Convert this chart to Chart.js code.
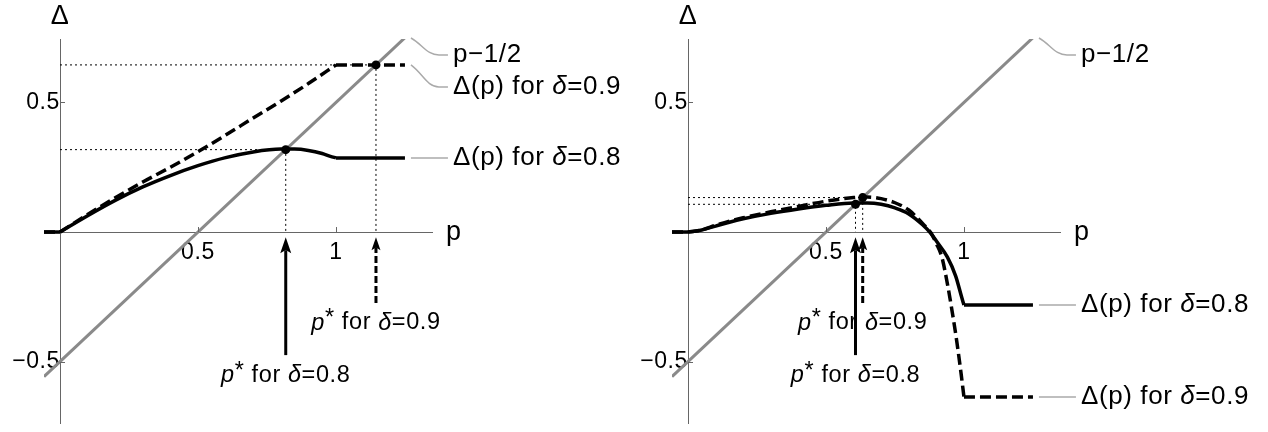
<!DOCTYPE html>
<html>
<head>
<meta charset="utf-8">
<title>Δ(p) for δ=0.8 and δ=0.9</title>
<script src="https://cdn.jsdelivr.net/npm/chart.js@4.4.1/dist/chart.umd.min.js"></script>
<style>
  html, body { margin: 0; padding: 0; background: #fff; overflow: hidden; }
  #wrap { position: relative; width: 1268px; height: 432px; }
  .panel { position: absolute; top: 0; }
</style>
</head>
<body>
<div id="wrap">
  <canvas id="left" class="panel" width="628" height="432" style="left:0"></canvas>
  <canvas id="right" class="panel" width="628" height="432" style="left:628px"></canvas>
</div>
<script>
const FONT = '"Liberation Sans", Arial, Helvetica, sans-serif';
const AXIS_GREY = '#666';
const LINE_GREY = '#8a8a8a';
const CALLOUT_GREY = '#aaa';

// axes (same for both panels)
const xRange = [-0.058, 1.348];
const yRange = [-0.737, 0.745];
const xTicks = [0.5, 1];
const xTickLabels = ['0.5', '1'];
const yTicks = [-0.5, 0.5];
const yTickLabels = ['\u22120.5', '0.5'];

// p − 1/2
const diagP = [-0.058, 1.25];
const diagD = [-0.558, 0.75];

// left panel
const leftP08 = [-0.058, 0, 0.1, 0.2, 0.3, 0.4, 0.5, 0.6, 0.7, 0.8, 0.85, 0.9, 0.95, 0.98, 1, 1.25];
const leftD08 = [0, 0, 0.063, 0.122, 0.174, 0.218, 0.256, 0.287, 0.309, 0.320, 0.320, 0.315, 0.303, 0.292, 0.286, 0.286];
const leftP09 = [-0.058, 0, 0.1, 0.2, 0.3, 0.4, 0.5, 0.6, 0.7, 0.8, 0.9, 1, 1.25];
const leftD09 = [0, 0, 0.068, 0.132, 0.193, 0.250, 0.310, 0.374, 0.440, 0.505, 0.573, 0.645, 0.645];
const leftStarP = [0.818, 1.145];   // p* for δ=0.8, δ=0.9
const leftStarD = [0.318, 0.645];

// right panel
const rightP08 = [-0.058, 0, 0.05, 0.1, 0.15, 0.2, 0.3, 0.4, 0.5, 0.6, 0.65, 0.7, 0.75, 0.8, 0.85, 0.88, 0.9, 0.94, 0.97, 0.99, 1, 1.25];
const rightD08 = [0, 0, 0.008, 0.023, 0.038, 0.051, 0.072, 0.089, 0.103, 0.112, 0.112, 0.107, 0.093, 0.070, 0.028, -0.005, -0.035, -0.097, -0.170, -0.245, -0.282, -0.282];
const rightP09 = [-0.058, 0, 0.05, 0.1, 0.15, 0.2, 0.3, 0.4, 0.5, 0.6, 0.65, 0.7, 0.75, 0.8, 0.85, 0.88, 0.9, 0.92, 0.94, 0.96, 0.975, 0.99, 1, 1.25];
const rightD09 = [0, 0, 0.008, 0.026, 0.042, 0.055, 0.078, 0.099, 0.119, 0.133, 0.135, 0.129, 0.113, 0.085, 0.033, -0.003, -0.045, -0.097, -0.200, -0.325, -0.430, -0.550, -0.637, -0.637];
const rightStarP = [0.607, 0.633];
const rightStarD = [0.107, 0.133];

// arrows and p* labels below the axis (Δ units), δ=0.8 then δ=0.9
const arrowTip = -0.02;
const arrowTail = [-0.475, -0.274];
const starLabelD = [-0.552, -0.351];

const labDiag = [['p\u22121/2']];
const lab08 = [['\u0394(p) for '], ['\u03b4', true], ['=0.8']];
const lab09 = [['\u0394(p) for '], ['\u03b4', true], ['=0.9']];
const star08 = [['p', true], ['*', false, -4], [' for '], ['\u03b4', true], ['=0.8']];
const star09 = [['p', true], ['*', false, -4], [' for '], ['\u03b4', true], ['=0.9']];

const pts = (ps, ds, a = 0, b = ps.length - 1) =>
  ps.slice(a, b + 1).map((p, i) => ({ x: p, y: ds[a + i] }));

// a curve = flat start, smooth body on [0, 1], flat tail (kinks kept sharp)
function curveSets(ps, ds, dash) {
  const i0 = ps.indexOf(0), i1 = ps.indexOf(1);
  const base = { borderColor: '#000', borderWidth: 3.5, pointRadius: 0, borderDash: dash || [] };
  return [
    { ...base, data: pts(ps, ds, 0, i0) },
    { ...base, data: pts(ps, ds, i0, i1), cubicInterpolationMode: 'monotone' },
    { ...base, data: pts(ps, ds, i1) }
  ];
}

function drawRich(ctx, parts, x, y, size, align) {
  let w = 0;
  parts.forEach(([t, it]) => {
    ctx.font = (it ? 'italic ' : '') + size + 'px ' + FONT;
    w += ctx.measureText(t).width;
  });
  let cx = align === 'center' ? x - w / 2 : x;
  ctx.textAlign = 'left';
  parts.forEach(([t, it, dy]) => {
    ctx.font = (it ? 'italic ' : '') + size + 'px ' + FONT;
    ctx.fillText(t, cx, y + (dy || 0));
    cx += ctx.measureText(t).width;
  });
}

function callout(ctx, x0, y0, drop, parts) {
  const x1 = x0 + 37;
  ctx.save();
  ctx.strokeStyle = CALLOUT_GREY;
  ctx.lineWidth = 1.5;
  ctx.beginPath();
  ctx.moveTo(x0, y0);
  if (drop) ctx.bezierCurveTo(x0 + 12, y0 + drop * 0.4, x0 + 16, y0 + drop, x0 + 28, y0 + drop);
  ctx.lineTo(x1, y0 + drop);
  ctx.stroke();
  ctx.fillStyle = '#000';
  ctx.textBaseline = 'middle';
  drawRich(ctx, parts, x1 + 5, y0 + drop, 26, 'left');
  ctx.restore();
}

function arrow(ctx, x, yTail, yTip, dashed) {
  const headL = dashed ? 13 : 16, headW = dashed ? 4.5 : 5.5;
  ctx.save();
  ctx.strokeStyle = '#000';
  ctx.fillStyle = '#000';
  ctx.lineWidth = 3;
  ctx.setLineDash(dashed ? [7, 3] : []);
  ctx.beginPath();
  ctx.moveTo(x, yTail);
  ctx.lineTo(x, yTip + headL - 3);
  ctx.stroke();
  ctx.setLineDash([]);
  ctx.beginPath();
  ctx.moveTo(x, yTip);
  ctx.lineTo(x - headW, yTip + headL);
  ctx.lineTo(x, yTip + headL * 0.8);
  ctx.lineTo(x + headW, yTip + headL);
  ctx.closePath();
  ctx.fill();
  ctx.restore();
}

// centred axes should not push the plot area around
const noPad = s => { s.paddingTop = 0; s.paddingBottom = 0; s.paddingLeft = 0; s.paddingRight = 0; };

function makePanel(id, c) {
  const overlay = {
    id: 'overlay',
    beforeDraw(chart) {
      // the reference type is set a little looser than Liberation Sans
      chart.ctx.letterSpacing = '0.6px';
    },
    beforeDatasetsDraw(chart) {
      const { ctx, scales: { x, y } } = chart;
      ctx.save();
      ctx.strokeStyle = '#000';
      ctx.lineWidth = 1;
      ctx.setLineDash([2, 3]);
      c.starP.forEach((p, i) => {
        const px = x.getPixelForValue(p), py = y.getPixelForValue(c.starD[i]);
        ctx.beginPath();
        ctx.moveTo(x.getPixelForValue(0), py);
        ctx.lineTo(px, py);
        ctx.lineTo(px, y.getPixelForValue(0));
        ctx.stroke();
      });
      ctx.restore();
    },
    afterDraw(chart) {
      const { ctx, chartArea, scales: { x, y } } = chart;
      const x0 = x.getPixelForValue(0), y0 = y.getPixelForValue(0);
      ctx.save();
      // inward tick marks
      ctx.strokeStyle = AXIS_GREY;
      ctx.lineWidth = 1;
      ctx.beginPath();
      xTicks.forEach(v => { const px = Math.round(x.getPixelForValue(v)) + 0.5; ctx.moveTo(px, y0); ctx.lineTo(px, y0 - 5); });
      yTicks.forEach(v => { const py = Math.round(y.getPixelForValue(v)) + 0.5; ctx.moveTo(x0, py); ctx.lineTo(x0 + 5, py); });
      ctx.stroke();
      // axis titles
      ctx.fillStyle = '#000';
      ctx.textBaseline = 'alphabetic';
      ctx.textAlign = 'center';
      ctx.font = '27px ' + FONT;
      ctx.fillText('\u0394', x0, chartArea.top - 15);
      ctx.textAlign = 'left';
      ctx.font = '27px ' + FONT;
      ctx.fillText('p', chartArea.right + 14, y0 + 8);
      // p* labels, then arrows on top
      ctx.textBaseline = 'middle';
      c.starP.forEach((p, i) => {
        drawRich(ctx, i === 0 ? star08 : star09, x.getPixelForValue(p), y.getPixelForValue(starLabelD[i]), 23.5, 'center');
      });
      c.starP.forEach((p, i) => {
        arrow(ctx, x.getPixelForValue(p), y.getPixelForValue(arrowTail[i]), y.getPixelForValue(arrowTip), i === 1);
      });
      // callouts at the right end of each curve
      c.callouts.forEach(k => {
        callout(ctx, x.getPixelForValue(k.p) + 6, Math.max(y.getPixelForValue(k.d), chartArea.top - 1), k.drop, k.label);
      });
      ctx.restore();
    }
  };

  const tickFont = { family: FONT, size: 23 };
  return new Chart(document.getElementById(id), {
    type: 'line',
    data: {
      datasets: [
        { data: pts(c.starP, c.starD), showLine: false, pointRadius: 4.5, pointBackgroundColor: '#000', pointBorderWidth: 0 },
        ...curveSets(c.p08, c.d08),
        ...curveSets(c.p09, c.d09, [11, 5]),
        { data: pts(diagP, diagD), borderColor: LINE_GREY, borderWidth: 3, pointRadius: 0 }
      ]
    },
    options: {
      responsive: false,
      animation: false,
      devicePixelRatio: 1,
      events: [],
      layout: { padding: { left: 44, right: 196, top: 39, bottom: 9 } },
      plugins: { legend: { display: false }, tooltip: { enabled: false } },
      scales: {
        x: {
          type: 'linear', min: xRange[0], max: xRange[1], position: { y: 0 },
          afterBuildTicks: s => { s.ticks = xTicks.map(v => ({ value: v })); },
          afterFit: noPad,
          ticks: { callback: (v, i) => xTickLabels[i], font: tickFont, color: '#000', padding: 7, maxRotation: 0, autoSkip: false },
          grid: { display: true, drawOnChartArea: false, drawTicks: false },
          border: { display: true, color: AXIS_GREY, width: 1 }
        },
        y: {
          type: 'linear', min: yRange[0], max: yRange[1], position: { x: 0 },
          afterBuildTicks: s => { s.ticks = yTicks.map(v => ({ value: v })); },
          afterFit: noPad,
          ticks: { callback: (v, i) => yTickLabels[i], font: tickFont, color: '#000', padding: 7, autoSkip: false },
          grid: { display: true, drawOnChartArea: false, drawTicks: false },
          border: { display: true, color: AXIS_GREY, width: 1 }
        }
      }
    },
    plugins: [overlay]
  });
}

makePanel('left', {
  p08: leftP08, d08: leftD08, p09: leftP09, d09: leftD09,
  starP: leftStarP, starD: leftStarD,
  callouts: [
    { p: diagP[1], d: diagD[1], drop: 17, label: labDiag },
    { p: leftP09[leftP09.length - 1], d: leftD09[leftD09.length - 1], drop: 22, label: lab09 },
    { p: leftP08[leftP08.length - 1], d: leftD08[leftD08.length - 1], drop: 0, label: lab08 }
  ]
});

makePanel('right', {
  p08: rightP08, d08: rightD08, p09: rightP09, d09: rightD09,
  starP: rightStarP, starD: rightStarD,
  callouts: [
    { p: diagP[1], d: diagD[1], drop: 17, label: labDiag },
    { p: rightP08[rightP08.length - 1], d: rightD08[rightD08.length - 1], drop: 0, label: lab08 },
    { p: rightP09[rightP09.length - 1], d: rightD09[rightD09.length - 1], drop: 0, label: lab09 }
  ]
});
</script>
</body>
</html>
